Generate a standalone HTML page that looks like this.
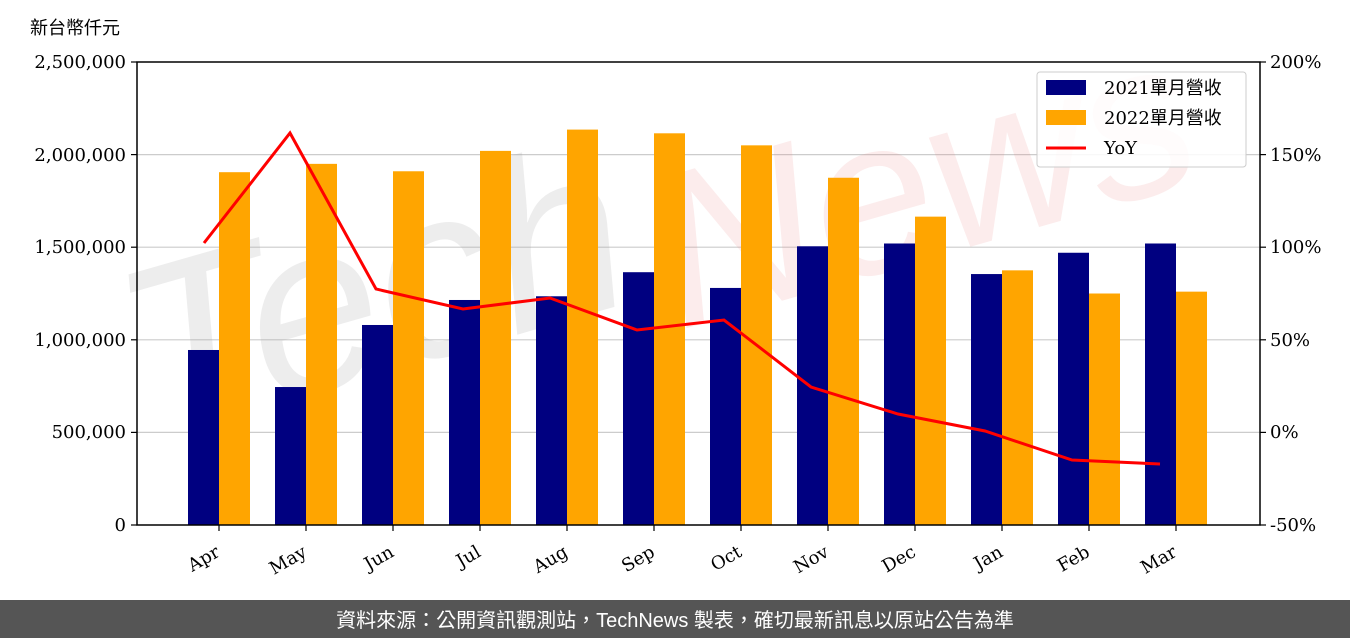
<!DOCTYPE html>
<html><head><meta charset="utf-8"><style>
body{margin:0;width:1350px;height:638px;background:#fff;overflow:hidden;position:relative}
svg{position:absolute;left:0;top:0}
.t{font-family:"DejaVu Serif","Liberation Serif",serif;font-size:18px;fill:#000}
.c{font-family:"Liberation Sans","Noto Sans CJK TC",sans-serif;}
</style></head><body>
<svg width="1350" height="638" xmlns="http://www.w3.org/2000/svg">
<text x="30" y="34" class="c" font-size="18" fill="#000">新台幣仟元</text>
<g stroke="#cccccc" stroke-width="1.2">
<line x1="137" x2="1260" y1="432.4" y2="432.4"/>
<line x1="137" x2="1260" y1="339.8" y2="339.8"/>
<line x1="137" x2="1260" y1="247.2" y2="247.2"/>
<line x1="137" x2="1260" y1="154.6" y2="154.6"/>
</g>
<text x="0" y="0" transform="translate(150,440) rotate(-16)" font-family="Liberation Sans,sans-serif" font-style="italic" font-size="240" fill="#999999" fill-opacity="0.18">Tech</text>
<text x="0" y="0" transform="translate(680,330) rotate(-16)" font-family="Liberation Sans,sans-serif" font-style="italic" font-size="220" fill="#e88080" fill-opacity="0.15">News</text>
<g id="bars"></g>
<polyline fill="none" stroke="#ff0000" stroke-width="3" points="204,243 290,133 376,289 463,309 550,298 637,330 724,320 811,387 898,414 985,431 1072,460 1160,464"/>
<rect x="137" y="62" width="1123" height="463" fill="none" stroke="#000" stroke-width="1.5"/>
<g stroke="#000" stroke-width="1.2">
<line x1="131" x2="137" y1="525" y2="525"/><line x1="131" x2="137" y1="432.4" y2="432.4"/><line x1="131" x2="137" y1="339.8" y2="339.8"/><line x1="131" x2="137" y1="247.2" y2="247.2"/><line x1="131" x2="137" y1="154.6" y2="154.6"/><line x1="131" x2="137" y1="62" y2="62"/>
<line x1="1260" x2="1266" y1="525" y2="525"/><line x1="1260" x2="1266" y1="432.4" y2="432.4"/><line x1="1260" x2="1266" y1="339.8" y2="339.8"/><line x1="1260" x2="1266" y1="247.2" y2="247.2"/><line x1="1260" x2="1266" y1="154.6" y2="154.6"/><line x1="1260" x2="1266" y1="62" y2="62"/>
</g>
<g class="t" text-anchor="end">
<text x="126" y="531">0</text><text x="126" y="438">500,000</text><text x="126" y="346">1,000,000</text><text x="126" y="253">1,500,000</text><text x="126" y="161">2,000,000</text><text x="126" y="68">2,500,000</text>
</g>
<g class="t">
<text x="1270" y="531">-50%</text><text x="1270" y="438">0%</text><text x="1270" y="346">50%</text><text x="1270" y="253">100%</text><text x="1270" y="161">150%</text><text x="1270" y="68">200%</text>
</g>
<g id="xl"></g>
<rect x="1037" y="72" width="209" height="95" rx="3" fill="#fff" fill-opacity="0.85" stroke="#cccccc"/>
<rect x="1046" y="80" width="40" height="15" fill="#000080"/>
<rect x="1046" y="110" width="40" height="15" fill="#ffa500"/>
<line x1="1046" x2="1086" y1="148" y2="148" stroke="#ff0000" stroke-width="3"/>
<text x="1104" y="94" class="t" font-family="DejaVu Serif,Noto Serif CJK SC,serif">2021單月營收</text>
<text x="1104" y="124" class="t" font-family="DejaVu Serif,Noto Serif CJK SC,serif">2022單月營收</text>
<text x="1104" y="154" class="t">YoY</text>
<rect x="0" y="600" width="1350" height="38" fill="#555555"/>
<text x="675" y="627" text-anchor="middle" class="c" font-size="20" fill="#fff">資料來源：公開資訊觀測站，TechNews 製表，確切最新訊息以原站公告為準</text>
</svg>
<script>
var b=[945,745,1080,1215,1235,1365,1280,1505,1520,1355,1470,1520];
var o=[1905,1950,1910,2020,2135,2115,2050,1875,1665,1375,1250,1260];
var m=["Apr","May","Jun","Jul","Aug","Sep","Oct","Nov","Dec","Jan","Feb","Mar"];
var s="",x="";
for(var i=0;i<12;i++){var c=219+i*87;
var yb=525-b[i]*0.1852,yo=525-o[i]*0.1852;
s+='<rect x="'+(c-31)+'" y="'+yb+'" width="31" height="'+(525-yb)+'" fill="#000080"/>';
s+='<rect x="'+c+'" y="'+yo+'" width="31" height="'+(525-yo)+'" fill="#ffa500"/>';
x+='<line x1="'+c+'" x2="'+c+'" y1="525" y2="531" stroke="#000" stroke-width="1.2"/>';
x+='<text class="t" text-anchor="end" transform="translate('+(c-4)+',545) rotate(-30)" y="12">'+m[i]+'</text>';}
document.getElementById("bars").innerHTML=s;document.getElementById("xl").innerHTML=x;
</script>
</body></html>
